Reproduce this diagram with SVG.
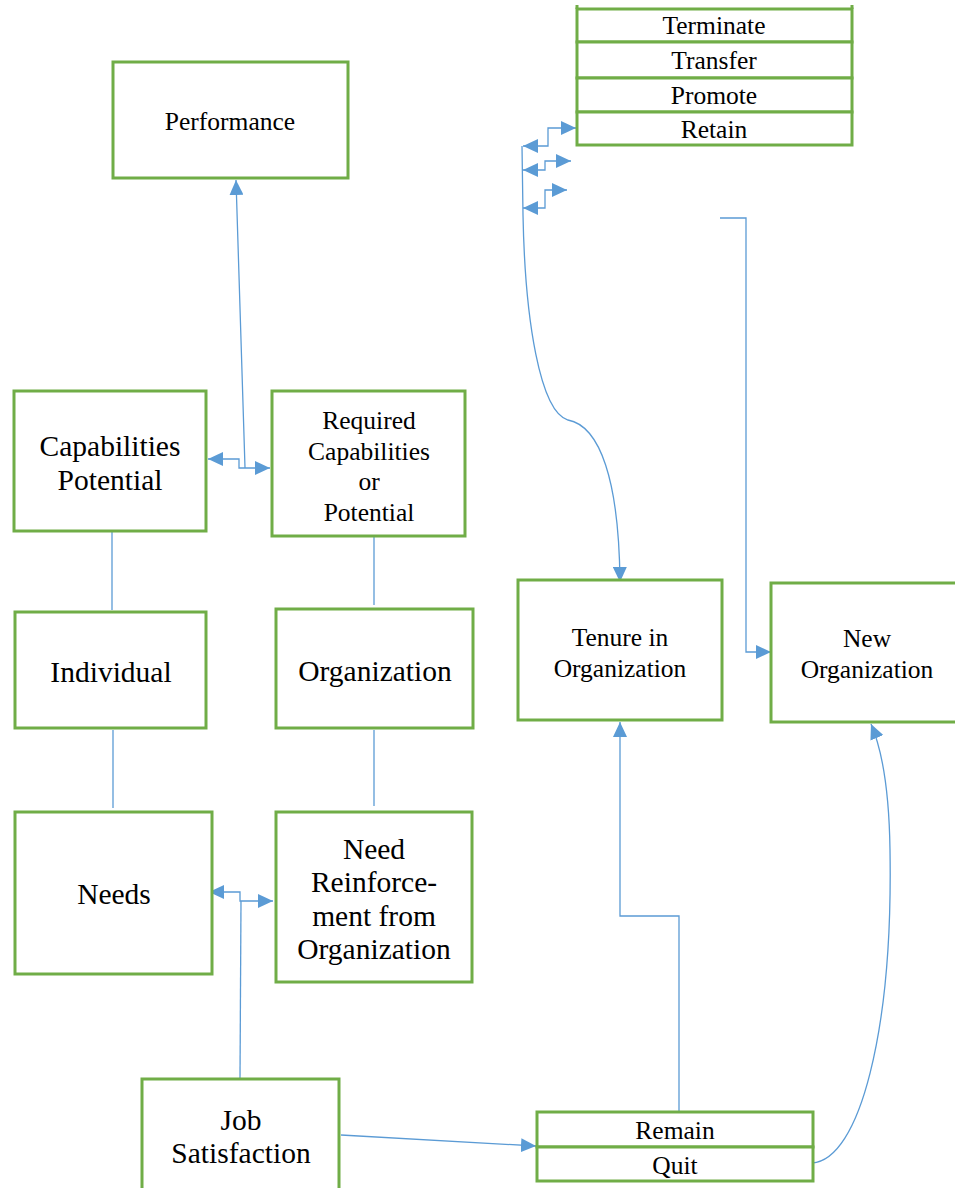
<svg xmlns="http://www.w3.org/2000/svg" width="955" height="1188" viewBox="0 0 955 1188">
<style>
.box{fill:#fff;stroke:#70AD47;stroke-width:3}
.c{fill:none;stroke:#5B9BD5;stroke-width:1.3}
.s{font-family:"Liberation Serif","Times New Roman",serif;font-size:25.5px;fill:#000;text-anchor:middle}
.l{font-family:"Liberation Serif","Times New Roman",serif;font-size:29.5px;fill:#000;text-anchor:middle}
</style>
<defs>
<marker id="ae" markerUnits="userSpaceOnUse" markerWidth="16" markerHeight="14" refX="15" refY="7" orient="auto">
<path d="M0,0 L15,7 L0,14 Z" fill="#5B9BD5"/>
</marker>
<marker id="as" markerUnits="userSpaceOnUse" markerWidth="16" markerHeight="14" refX="0" refY="7" orient="auto">
<path d="M15,0 L0,7 L15,14 Z" fill="#5B9BD5"/>
</marker>
</defs>
<rect width="955" height="1188" fill="#fff"/>
<g id="connectors">
<line class="c" x1="112" y1="532" x2="112" y2="610"/>
<line class="c" x1="374" y1="537" x2="374" y2="605"/>
<line class="c" x1="113" y1="730" x2="113" y2="808"/>
<line class="c" x1="374" y1="730" x2="374" y2="806"/>
<path class="c" d="M245,468 L236,180" marker-end="url(#ae)"/>
<path class="c" d="M208,459 H239 V468 H270" marker-start="url(#as)" marker-end="url(#ae)"/>
<path class="c" d="M240,1078 L241,901"/>
<path class="c" d="M209,892 H240 V901 H273" marker-start="url(#as)" marker-end="url(#ae)"/>
<path class="c" d="M341,1135 L536,1146" marker-end="url(#ae)"/>
<path class="c" d="M679,1111 V916 H620 V722" marker-end="url(#ae)"/>
<path class="c" d="M812,1163 C860,1160 893,1030 890,850 C889,780 880,745 871,724" marker-end="url(#ae)"/>
<path class="c" d="M720,218 H746 V652 H771" marker-end="url(#ae)"/>
<path class="c" d="M522,146 L523,215 C525,320 540,412 568,420 C600,426 619,480 620,582" marker-end="url(#ae)"/>
<path class="c" d="M523,146 H548 V128 H576" marker-start="url(#as)" marker-end="url(#ae)"/>
<path class="c" d="M523,170 H545 V161 H571" marker-start="url(#as)" marker-end="url(#ae)"/>
<path class="c" d="M523,208 H545 V190 H567" marker-start="url(#as)" marker-end="url(#ae)"/>
</g>
<g id="performance">
<rect class="box" x="113" y="62" width="235" height="116"/>
<text class="s" x="230" y="130">Performance</text>
</g>
<g id="capabilities">
<rect class="box" x="14" y="391" width="192" height="140"/>
<text class="l" x="110" y="456">Capabilities</text>
<text class="l" x="110" y="490">Potential</text>
</g>
<g id="required">
<rect class="box" x="272" y="391" width="193" height="145"/>
<text class="s" x="369" y="429">Required</text>
<text class="s" x="369" y="460">Capabilities</text>
<text class="s" x="369" y="490">or</text>
<text class="s" x="369" y="521">Potential</text>
</g>
<g id="individual">
<rect class="box" x="15" y="612" width="191" height="116"/>
<text class="l" x="111" y="682">Individual</text>
</g>
<g id="organization">
<rect class="box" x="276" y="609" width="197" height="119"/>
<text class="l" x="375" y="681">Organization</text>
</g>
<g id="needs">
<rect class="box" x="15" y="812" width="197" height="162"/>
<text class="l" x="114" y="904">Needs</text>
</g>
<g id="reinforcement">
<rect class="box" x="276" y="812" width="196" height="170"/>
<text class="l" x="374" y="859">Need</text>
<text class="l" x="374" y="892">Reinforce-</text>
<text class="l" x="374" y="926">ment from</text>
<text class="l" x="374" y="959">Organization</text>
</g>
<g id="job-satisfaction">
<rect class="box" x="142" y="1079" width="197" height="130"/>
<text class="l" x="241" y="1130">Job</text>
<text class="l" x="241" y="1163">Satisfaction</text>
</g>
<g id="tenure">
<rect class="box" x="518" y="580" width="204" height="140"/>
<text class="s" x="620" y="646">Tenure in</text>
<text class="s" x="620" y="677">Organization</text>
</g>
<g id="new-organization">
<rect class="box" x="771" y="583" width="195" height="139"/>
<text class="s" x="867" y="647">New</text>
<text class="s" x="867" y="678">Organization</text>
</g>
<g id="actions">
<line x1="577" y1="5" x2="577" y2="9" stroke="#70AD47" stroke-width="3"/>
<line x1="852" y1="5" x2="852" y2="9" stroke="#70AD47" stroke-width="3"/>
<rect class="box" x="577" y="9" width="275" height="33"/>
<rect class="box" x="577" y="42" width="275" height="36"/>
<rect class="box" x="577" y="78" width="275" height="34"/>
<rect class="box" x="577" y="112" width="275" height="33"/>
<text class="s" x="714" y="34">Terminate</text>
<text class="s" x="714" y="69">Transfer</text>
<text class="s" x="714" y="104">Promote</text>
<text class="s" x="714" y="138">Retain</text>
</g>
<g id="outcome">
<rect class="box" x="537" y="1112" width="276" height="35"/>
<rect class="box" x="537" y="1147" width="276" height="34"/>
<text class="s" x="675" y="1139">Remain</text>
<text class="s" x="675" y="1174">Quit</text>
</g>
</svg>
